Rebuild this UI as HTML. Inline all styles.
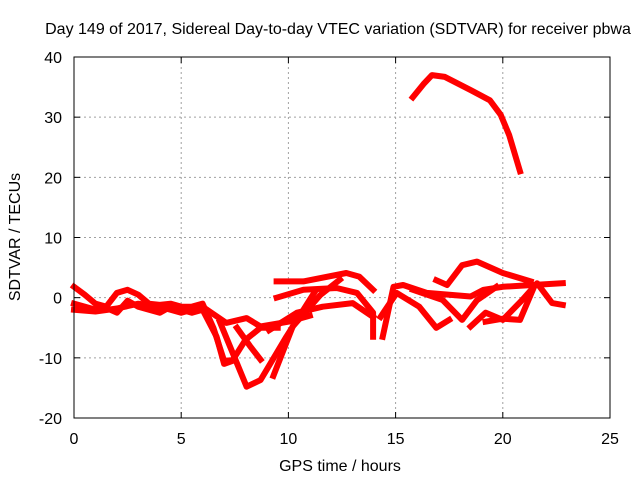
<!DOCTYPE html>
<html><head><meta charset="utf-8"><style>
body{margin:0;background:#fff;}
svg text{font-family:"Liberation Sans",sans-serif;font-size:16px;fill:#000;}
</style></head><body>
<svg width="640" height="480" xmlns="http://www.w3.org/2000/svg">
<text x="338" y="34" text-anchor="middle">Day 149 of 2017, Sidereal Day-to-day VTEC variation (SDTVAR) for receiver pbwa</text>
<g id="grid"></g>
<g id="axes"></g>
<g id="series"></g>
<rect x="74" y="57" width="536" height="361" fill="none" stroke="#000" stroke-width="1"/>
<text x="340" y="471" text-anchor="middle">GPS time / hours</text>
<text transform="translate(20,237) rotate(-90)" text-anchor="middle">SDTVAR / TECUs</text>
</svg>
<script>
const xTicks=[0,5,10,15,20,25];
const yTicks=[-20,-10,0,10,20,30,40];
const s1h=[15.8,16.3,16.7,17.3,18.5,19.4,19.9,20.3,20.8];
const s1v=[33.3,35.5,37,36.7,34.5,32.8,30.4,27,21];
const s2h=[0,0.5,1,1.5,2,2.5,3,3.5,4,4.5,5,5.5,6,6.5,7,7.4,8,8.7,9.5];
const s2v=[1.8,0.5,-1,-1.5,0.8,1.3,0.5,-1,-1.2,-1,-1.5,-1.5,-1,-5,-10.5,-10.4,-7,-5,-5];
const s3h=[0,0.5,1,1.5,2,2.5,3,3.5,4,4.5,5,5.5,6,6.65,7,7.4];
const s3v=[-1,-1.5,-2,-1.7,-2.5,-0.5,-1.5,-2,-2.5,-1.5,-2,-2.5,-2,-6.5,-11,-10.5];
const s4h=[0,1,2,3,4,5,6,7.1,8.05,8.7,10,11];
const s4v=[-2,-2.3,-1.8,-1,-1.5,-2.5,-1.5,-4.2,-3.4,-4.8,-4,-3];
const s5h=[6.8,8.05,8.7,9.9,11.2];
const s5v=[-4,-14.8,-13.7,-6.5,0.8];
const s6h=[7.6,8.2,8.7];
const s6v=[-5,-8,-10.3];
const s7h=[9.3,10.2,11.5,12.4];
const s7v=[-13,-4.8,0.5,3];
const s8h=[9.45,10.7,12.7,13.3,13.95];
const s8v=[2.7,2.7,4.1,3.5,1.3];
const s9h=[9.45,10.7,12.25,13.2,13.95,13.95];
const s9v=[0,1.3,1.6,0.8,-2.5,-6.5];
const s10h=[9.1,10.4,11.6,13,13.95];
const s10v=[-5.4,-2.5,-1.5,-0.9,-3.2];
const s11h=[14.4,14.9,15.35,16.45,18.5,19.1,20,22.8];
const s11v=[-6.5,1.8,2.1,0.8,0.2,1.3,1.8,2.4];
const s12h=[14.3,15.05,16.1,16.9,17.5];
const s12v=[-3.2,0.8,-1.5,-5,-3.7];
const s13h=[15.8,17.2,18.1,18.8,19.7];
const s13v=[1.3,-0.4,-3.7,-0.4,1.8];
const s14h=[16.9,17.4,18.1,18.8,20,21.3];
const s14v=[2.9,2.1,5.4,6,4.1,2.7];
const s15h=[18.5,19.2,20,20.9,21.6,22.3,22.8];
const s15v=[-4.8,-2.5,-3.7,-0.4,2.4,-0.9,-1.2];
const s16h=[19.2,20,20.8,21.4];
const s16v=[-4,-3.5,-3.7,1.3];
const seriesH=[s1h,s2h,s3h,s4h,s5h,s6h,s7h,s8h,s9h,s10h,s11h,s12h,s13h,s14h,s15h,s16h];
const seriesV=[s1v,s2v,s3v,s4v,s5v,s6v,s7v,s8v,s9v,s10v,s11v,s12v,s13v,s14v,s15v,s16v];
const NS="http://www.w3.org/2000/svg";
const X=h=>74+(h-0)*536/25;
const Y=v=>418-(v+20)*361/60;
function mk(tag,attrs,parent){const e=document.createElementNS(NS,tag);for(const k in attrs)e.setAttribute(k,attrs[k]);parent.appendChild(e);return e;}
const grid=document.getElementById('grid'),axes=document.getElementById('axes'),ser=document.getElementById('series');
xTicks.forEach(t=>{
  const x=X(t);
  if(t>0&&t<25){const g=mk('line',{x1:x,y1:57,x2:x,y2:418,stroke:'#a0a0a0','stroke-dasharray':'2,3'},grid);
  
  }
  mk('line',{x1:x,y1:418,x2:x,y2:412,stroke:'#000'},axes);
  mk('line',{x1:x,y1:57,x2:x,y2:63,stroke:'#000'},axes);
  const tx=mk('text',{x:x,y:444,'text-anchor':'middle'},axes);tx.textContent=t;
  
  
});
yTicks.forEach(t=>{
  const y=Y(t);
  if(t>-20&&t<40){const g=mk('line',{x1:74,y1:y,x2:610,y2:y,stroke:'#a0a0a0','stroke-dasharray':'2,3'},grid);
  
  }
  mk('line',{x1:74,y1:y,x2:80,y2:y,stroke:'#000'},axes);
  mk('line',{x1:610,y1:y,x2:604,y2:y,stroke:'#000'},axes);
  const tx=mk('text',{x:62,y:y+6,'text-anchor':'end'},axes);tx.textContent=t;
  
  
});
seriesH.forEach((hs,i)=>{
  const vs=seriesV[i];
  const pts=hs.map((h,j)=>X(h).toFixed(1)+','+Y(vs[j]).toFixed(1)).join(' ');
  const p=mk('polyline',{points:pts,fill:'none',stroke:'#ff0000','stroke-width':6,'stroke-linejoin':'round','stroke-linecap':'square'},ser);
  
  
});
</script>
</body></html>
